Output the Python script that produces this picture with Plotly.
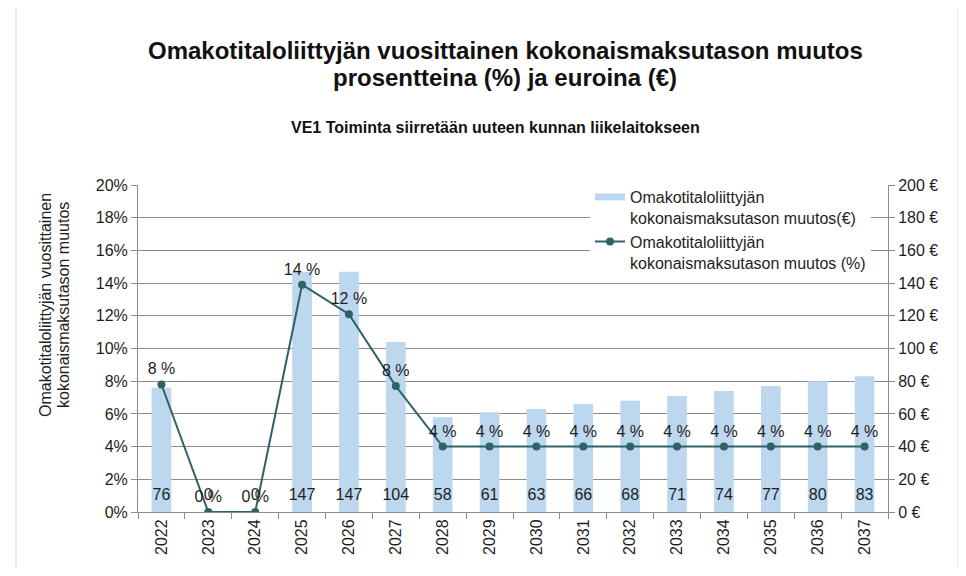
import plotly.graph_objects as go

years = ["2022", "2023", "2024", "2025", "2026", "2027", "2028", "2029", "2030",
         "2031", "2032", "2033", "2034", "2035", "2036", "2037"]
euro_change = [76, 0, 0, 147, 147, 104, 58, 61, 63, 66, 68, 71, 74, 77, 80, 83]
pct_change = [7.8, 0, 0, 13.9, 12.1, 7.7, 4.0, 4.0, 4.0, 4.0, 4.0, 4.0, 4.0, 4.0, 4.0, 4.0]
pct_labels = ["8 %", "0 %", "0 %", "14 %", "12 %", "8 %", "4 %", "4 %", "4 %",
              "4 %", "4 %", "4 %", "4 %", "4 %", "4 %", "4 %"]
left_ticks = [0, 2, 4, 6, 8, 10, 12, 14, 16, 18, 20]
right_ticks = [0, 20, 40, 60, 80, 100, 120, 140, 160, 180, 200]

FONT = "Liberation Sans, Arial, sans-serif"
BAR = "#BDD7EE"
LINE = "#2E6266"
GRID = "#8C8C8C"
TXT = "#1E1E1E"
FS = 16

# the page body adds an 8px margin; work in screen pixels and convert
OFF = 8
W, H = 966 - 2 * OFF, 576 - 2 * OFF
L, R, T, B = 138 - OFF, 888 - OFF, 185 - OFF, 512 - OFF
PW, PH = R - L, B - T


def px(x_screen):
    return (x_screen - OFF - L) / PW


def py(y_screen):
    return (B - (y_screen - OFF)) / PH


fig = go.Figure()

fig.add_trace(go.Bar(
    x=years, y=euro_change, yaxis="y",
    name="bars", showlegend=False,
    marker=dict(color=BAR, line=dict(width=0)),
    hoverinfo="x+y",
))

# bar value labels near base
fig.add_trace(go.Scatter(
    x=years, y=[10] * len(years), yaxis="y", mode="text",
    text=[str(v) for v in euro_change], textposition="middle center",
    textfont=dict(size=FS, color=TXT, family=FONT),
    showlegend=False, hoverinfo="skip",
))

# legend entry for bars (flat wide swatch like the reference)
fig.add_trace(go.Scatter(
    x=[None], y=[None], yaxis="y", mode="lines",
    name="Omakotitaloliittyjän<br>kokonaismaksutason muutos(€)",
    line=dict(color=BAR, width=7),
    hoverinfo="skip",
))

fig.add_trace(go.Scatter(
    x=years, y=pct_change, yaxis="y2",
    name="Omakotitaloliittyjän<br>kokonaismaksutason muutos (%)",
    mode="lines+markers+text",
    line=dict(color=LINE, width=2),
    marker=dict(color=LINE, size=8),
    text=pct_labels, textposition="top center",
    textfont=dict(size=FS, color=TXT, family=FONT),
))

fig.update_layout(
    width=W, height=H,
    paper_bgcolor="white", plot_bgcolor="white",
    margin=dict(l=L, r=W - R, t=T, b=H - B),
    font=dict(family=FONT, size=FS, color=TXT),
    bargap=0.58,
    xaxis=dict(
        type="category", range=[-0.5, len(years) - 0.5],
        tickangle=-90, ticks="outside", tickson="boundaries",
        ticklen=6, tickcolor=GRID, showline=True, linecolor=GRID, linewidth=1,
        showgrid=False, tickfont=dict(size=FS, color=TXT), automargin=False,
    ),
    yaxis=dict(
        range=[0, 200], tickvals=right_ticks, ticktext=[f"{t} €" for t in right_ticks],
        side="right", showgrid=True, gridcolor=GRID, gridwidth=1, zeroline=False,
        showline=True, linecolor=GRID, ticks="outside", ticklen=6, tickcolor=GRID,
        tickfont=dict(size=FS, color=TXT), automargin=False,
    ),
    yaxis2=dict(
        range=[0, 20], tickvals=left_ticks, ticktext=[f"{t}%" for t in left_ticks],
        overlaying="y", side="left", showgrid=False, zeroline=False,
        showline=True, linecolor=GRID, ticks="outside", ticklen=6, tickcolor=GRID,
        tickfont=dict(size=FS, color=TXT), automargin=False,
    ),
    legend=dict(
        x=px(590), y=py(180), xanchor="left", yanchor="top",
        bgcolor="white", borderwidth=0, valign="top",
        font=dict(size=FS, color=TXT),
        tracegroupgap=0, itemwidth=30,
    ),
    showlegend=True,
    annotations=[
        dict(text="<b>Omakotitaloliittyjän vuosittainen kokonaismaksutason muutos</b>",
             xref="paper", yref="paper", x=px(505), y=py(50), xanchor="center",
             yanchor="middle", showarrow=False,
             font=dict(size=24, family=FONT, color="#111111")),
        dict(text="<b>prosentteina (%) ja euroina (€)</b>",
             xref="paper", yref="paper", x=px(505), y=py(78), xanchor="center",
             yanchor="middle", showarrow=False,
             font=dict(size=24, family=FONT, color="#111111")),
        dict(text="<b>VE1 Toiminta siirretään uuteen kunnan liikelaitokseen</b>",
             xref="paper", yref="paper", x=px(495), y=py(128), xanchor="center",
             yanchor="middle", showarrow=False,
             font=dict(size=16, family=FONT, color="#111111")),
        dict(text="Omakotitaloliittyjän vuosittainen",
             xref="paper", yref="paper", x=px(45), y=py(305), xanchor="center",
             yanchor="middle", showarrow=False, textangle=-90,
             font=dict(size=FS, family=FONT, color=TXT)),
        dict(text="kokonaismaksutason muutos",
             xref="paper", yref="paper", x=px(63), y=py(305), xanchor="center",
             yanchor="middle", showarrow=False, textangle=-90,
             font=dict(size=FS, family=FONT, color=TXT)),
    ],
    shapes=[dict(
        type="rect", xref="paper", yref="paper",
        x0=px(16), x1=px(958), y0=py(600), y1=py(3),
        line=dict(color="#D9D9D9", width=1), layer="below",
    )],
)

fig.write_html("out.html")
